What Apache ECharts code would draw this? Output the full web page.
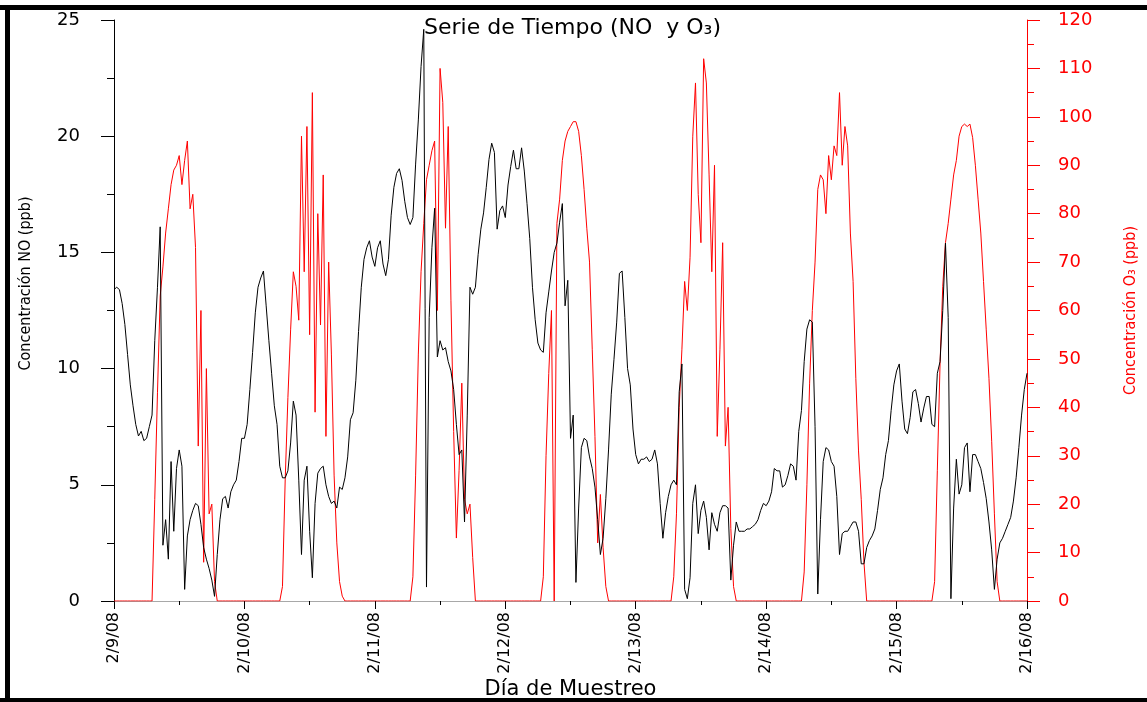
<!DOCTYPE html>
<html>
<head>
<meta charset="utf-8">
<title>Serie de Tiempo (NO y O3)</title>
<script src="https://cdn.jsdelivr.net/npm/echarts@6.0.0/dist/echarts.min.js"></script>
<style>
  html, body { margin: 0; padding: 0; background: #fff; }
  #chart { width: 1147px; height: 702px; }
</style>
</head>
<body>
<div id="chart"></div>
<script>
// etiquetas del eje x (un tick por día, 24 h)
const dayLabels = ['2/9/08', '2/10/08', '2/11/08', '2/12/08', '2/13/08', '2/14/08', '2/15/08', '2/16/08']

// NO (ppb), cada 30 min, de 00:00 a 23:30
const no_d1 = [13.4, 13.5, 13.4, 12.8, 11.9, 10.6, 9.3, 8.4, 7.6, 7.1, 7.3, 6.9, 7.0, 7.5, 8.0, 11.2, 13.5, 16.1, 2.4, 3.5, 1.8, 6.0, 3.0, 5.7, 6.5, 5.8, 0.5, 2.8, 3.5, 3.9, 4.2, 4.1, 3.3, 2.3, 1.8, 1.4, 0.9, 0.2, 2.0, 3.5, 4.4, 4.5, 4.0, 4.7, 5.0, 5.2, 6.0, 7.0]
const no_d2 = [7.0, 7.6, 9.1, 10.7, 12.4, 13.5, 13.9, 14.2, 12.7, 11.2, 9.8, 8.4, 7.6, 5.8, 5.3, 5.3, 5.6, 6.8, 8.6, 8.0, 5.2, 2.0, 5.2, 5.8, 3.0, 1.0, 4.2, 5.5, 5.7, 5.8, 5.0, 4.5, 4.2, 4.3, 4.0, 4.9, 4.8, 5.3, 6.2, 7.8, 8.1, 9.5, 11.6, 13.5, 14.7, 15.2, 15.5, 14.8]
const no_d3 = [14.4, 15.2, 15.5, 14.5, 14.0, 14.7, 16.6, 17.8, 18.4, 18.6, 18.1, 17.2, 16.5, 16.2, 16.5, 18.8, 20.7, 23.0, 24.6, 0.6, 12.2, 15.2, 16.9, 10.5, 11.2, 10.8, 10.9, 10.3, 9.9, 9.1, 7.6, 6.3, 6.5, 3.4, 8.0, 13.5, 13.2, 13.5, 14.9, 16.0, 16.7, 17.8, 19.0, 19.7, 19.3, 16.0, 16.8, 17.0]
const no_d4 = [16.5, 17.9, 18.7, 19.4, 18.6, 18.6, 19.5, 18.5, 17.1, 15.6, 13.5, 12.1, 11.1, 10.8, 10.7, 12.4, 13.3, 14.2, 15.0, 15.4, 16.3, 17.1, 12.7, 13.8, 7.0, 8.0, 0.8, 4.0, 6.6, 7.0, 6.9, 6.2, 5.7, 4.9, 3.5, 2.0, 2.7, 4.4, 6.5, 8.9, 10.4, 12.0, 14.1, 14.2, 12.2, 10.0, 9.3, 7.4]
const no_d5 = [6.3, 5.9, 6.1, 6.1, 6.2, 6.0, 6.1, 6.5, 5.9, 4.2, 2.7, 3.8, 4.5, 5.0, 5.2, 5.0, 9.0, 10.2, 0.5, 0.1, 1.0, 4.2, 5.0, 2.9, 3.9, 4.3, 3.6, 2.2, 3.8, 3.3, 3.0, 3.8, 4.1, 4.1, 4.0, 0.9, 2.4, 3.4, 3.0, 3.0, 3.0, 3.1, 3.1, 3.2, 3.3, 3.5, 3.9, 4.2]
const no_d6 = [4.1, 4.3, 4.7, 5.7, 5.6, 5.6, 4.9, 5.0, 5.4, 5.9, 5.8, 5.2, 7.3, 8.2, 10.3, 11.7, 12.1, 12.0, 7.5, 0.3, 3.5, 6.0, 6.6, 6.5, 6.0, 5.8, 4.5, 2.0, 2.9, 3.0, 3.0, 3.2, 3.4, 3.4, 3.0, 1.6, 1.6, 2.3, 2.6, 2.8, 3.1, 3.9, 4.8, 5.3, 6.3, 6.9, 8.2, 9.3]
const no_d7 = [9.9, 10.2, 8.6, 7.4, 7.2, 7.9, 9.0, 9.1, 8.5, 7.7, 8.3, 8.8, 8.8, 7.6, 7.5, 9.8, 10.3, 12.5, 15.4, 12.2, 0.1, 4.0, 6.1, 4.6, 5.0, 6.6, 6.8, 4.7, 6.3, 6.3, 6.0, 5.7, 5.1, 4.4, 3.4, 2.2, 0.5, 1.8, 2.5, 2.7, 3.0, 3.3, 3.6, 4.3, 5.3, 6.6, 8.0, 9.1]
const no_end = 9.8

// O3 (ppb), cada 30 min, de 00:00 a 23:30
const o3_d1 = [0, 0, 0, 0, 0, 0, 0, 0, 0, 0, 0, 0, 0, 0, 0, 21, 43, 63, 69, 76, 81, 86, 89, 90, 92, 86, 91, 95, 81, 84, 73, 32, 60, 8, 48, 18, 20, 4, 0, 0, 0, 0, 0, 0, 0, 0, 0, 0]
const o3_d2 = [0, 0, 0, 0, 0, 0, 0, 0, 0, 0, 0, 0, 0, 0, 3, 25, 42, 56, 68, 65, 58, 96, 68, 98, 55, 105, 39, 80, 57, 88, 34, 70, 51, 26, 12, 4, 1, 0, 0, 0, 0, 0, 0, 0, 0, 0, 0, 0]
const o3_d3 = [0, 0, 0, 0, 0, 0, 0, 0, 0, 0, 0, 0, 0, 0, 5, 26, 51, 68, 78, 87, 90, 93, 95, 60, 110, 103, 77, 98, 62, 35, 13, 27, 45, 21, 18, 20, 9, 0, 0, 0, 0, 0, 0, 0, 0, 0, 0, 0]
const o3_d4 = [0, 0, 0, 0, 0, 0, 0, 0, 0, 0, 0, 0, 0, 0, 5, 30, 47, 60, 0, 78, 83, 91, 95, 97, 98, 99, 99, 97, 92, 85, 77, 70, 52, 34, 12, 22, 11, 3, 0, 0, 0, 0, 0, 0, 0, 0, 0, 0]
const o3_d5 = [0, 0, 0, 0, 0, 0, 0, 0, 0, 0, 0, 0, 0, 0, 5, 18, 40, 52, 66, 60, 71, 96, 107, 84, 74, 112, 107, 88, 68, 90, 34, 52, 74, 32, 40, 15, 3, 0, 0, 0, 0, 0, 0, 0, 0, 0, 0, 0]
const o3_d6 = [0, 0, 0, 0, 0, 0, 0, 0, 0, 0, 0, 0, 0, 0, 6, 24, 45, 60, 70, 85, 88, 87, 80, 92, 87, 94, 92, 105, 90, 98, 94, 76, 66, 46, 31, 21, 8, 0, 0, 0, 0, 0, 0, 0, 0, 0, 0, 0]
const o3_d7 = [0, 0, 0, 0, 0, 0, 0, 0, 0, 0, 0, 0, 0, 0, 4, 27, 49, 65, 74, 78, 83, 88, 91, 96, 98, 98.5, 98, 98.5, 95.7, 90, 83, 76, 66, 56, 46, 33, 18, 4, 0, 0, 0, 0, 0, 0, 0, 0]
const o3_end = 0

const noDays = [no_d1, no_d2, no_d3, no_d4, no_d5, no_d6, no_d7]
const o3Days = [o3_d1, o3_d2, o3_d3, o3_d4, o3_d5, o3_d6, o3_d7]

// x = horas desde 2/9/08 00:00
function buildSeries(days, last) {
  let res = []
  days.forEach((vals, d) => {
    vals.forEach((v, i) => {
      res.push([d * 24 + i * 0.5, v])
    })
  })
  res.push([days.length * 24, last])
  return res
}

const wide = '"DejaVu Sans", sans-serif'
const narrow = '"Liberation Sans Narrow", "DejaVu Sans Condensed", sans-serif'

const chart = echarts.init(document.getElementById('chart'))

const option = {
  animation: false,
  backgroundColor: '#fff',
  title: {
    text: 'Serie de Tiempo (NO  y O₃)',
    left: 424,
    top: 17,
    padding: 0,
    textStyle: {
      fontFamily: wide,
      fontSize: 22,
      fontWeight: 'normal',
      color: '#000'
    }
  },
  grid: {
    left: 114,
    right: 120,
    top: 20,
    bottom: 101,
    outerBoundsMode: 'none'
  },
  xAxis: {
    type: 'value',
    min: 0,
    max: 168,
    interval: 24,
    name: 'Día de Muestreo',
    nameLocation: 'middle',
    nameMoveOverlap: false,
    nameGap: 78,
    nameTextStyle: {
      fontFamily: wide,
      fontSize: 21,
      color: '#000'
    },
    axisLine: {
      lineStyle: { color: '#a8a8a8', width: 1 }
    },
    axisTick: {
      length: 8,
      lineStyle: { color: '#000' }
    },
    minorTick: {
      show: true,
      splitNumber: 2,
      length: 4,
      lineStyle: { color: '#000' }
    },
    splitLine: { show: false },
    minorSplitLine: { show: false },
    axisLabel: {
      rotate: 90,
      margin: 11,
      fontFamily: wide,
      fontSize: 16,
      color: '#000',
      formatter: function (v) {
        return dayLabels[Math.round(v / 24)]
      }
    }
  },
  yAxis: [
    {
      type: 'value',
      position: 'left',
      min: 0,
      max: 25,
      interval: 5,
      name: 'Concentración NO (ppb)',
      nameLocation: 'middle',
      nameRotate: 90,
      nameGap: 80,
      nameTextStyle: {
        fontFamily: narrow,
        fontSize: 16,
        color: '#000',
        padding: [0, 0, 0, 54]
      },
      axisLine: {
        show: true,
        lineStyle: { color: '#000' }
      },
      axisTick: {
        show: true,
        length: 13,
        lineStyle: { color: '#000' }
      },
      minorTick: {
        show: true,
        splitNumber: 2,
        length: 7,
        lineStyle: { color: '#000' }
      },
      splitLine: { show: false },
      axisLabel: {
        margin: 34,
        fontFamily: wide,
        fontSize: 18,
        color: '#000'
      }
    },
    {
      type: 'value',
      position: 'right',
      min: 0,
      max: 120,
      interval: 10,
      name: 'Concentración O₃ (ppb)',
      nameLocation: 'middle',
      nameRotate: 90,
      nameGap: 96,
      nameTextStyle: {
        fontFamily: narrow,
        fontSize: 16,
        color: '#ff0000'
      },
      axisLine: {
        show: true,
        lineStyle: { color: '#ff0000' }
      },
      axisTick: {
        show: true,
        length: 13,
        lineStyle: { color: '#ff0000' }
      },
      minorTick: {
        show: true,
        splitNumber: 2,
        length: 7,
        lineStyle: { color: '#ff0000' }
      },
      splitLine: { show: false },
      axisLabel: {
        margin: 31,
        fontFamily: wide,
        fontSize: 18,
        color: '#ff0000'
      }
    }
  ],
  series: [
    {
      name: 'O3',
      type: 'line',
      yAxisIndex: 1,
      symbol: 'none',
      lineStyle: { color: '#ff0000', width: 1 },
      data: buildSeries(o3Days, o3_end)
    },
    {
      name: 'NO',
      type: 'line',
      yAxisIndex: 0,
      symbol: 'none',
      lineStyle: { color: '#000', width: 1 },
      data: buildSeries(noDays, no_end)
    }
  ],
  // marco negro de la figura original
  graphic: [
    { type: 'rect', shape: { x: 0, y: 5, width: 1147, height: 5 }, style: { fill: '#000' } },
    { type: 'rect', shape: { x: 5, y: 5, width: 5, height: 697 }, style: { fill: '#000' } },
    { type: 'rect', shape: { x: 0, y: 698, width: 1147, height: 4 }, style: { fill: '#000' } }
  ]
}

chart.setOption(option)
</script>
</body>
</html>
